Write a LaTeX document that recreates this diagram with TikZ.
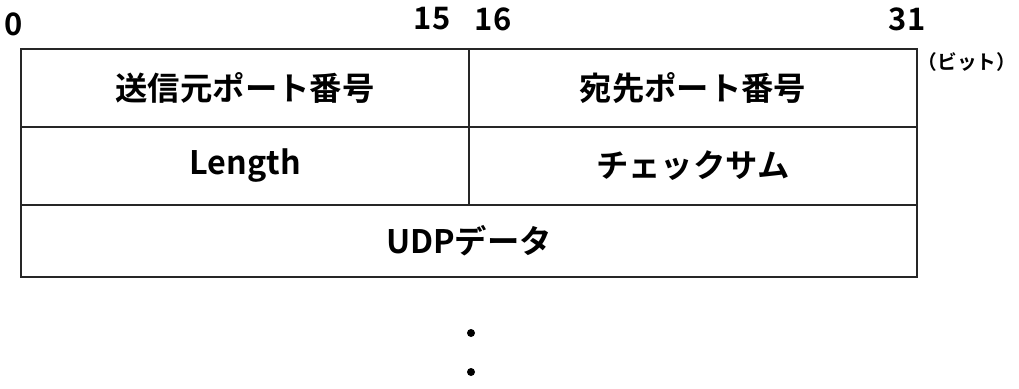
\documentclass[tikz,border=0pt]{standalone}
\usepackage{fontspec}
\setmainfont{Noto Sans CJK JP}[BoldFont={* Bold}]
\usepackage{tikz}
\usetikzlibrary{positioning}

\tikzset{
    field/.style={draw=black!85,line width=1.3pt,rectangle,inner sep=0pt,
        font=\fontsize{23}{23}\selectfont\bfseries},
    bitno/.style={inner sep=0pt,font=\fontsize{22}{22}\selectfont\bfseries},
    dotmark/.style={circle,fill=black,inner sep=0pt,minimum size=8*0.025cm}
}

\begin{document}
\begin{tikzpicture}[x=0.025cm,y=-0.025cm]
    \useasboundingbox (0,0) rectangle (1019,388);

    % bit numbers
    \node[bitno] (b0)  at (14,24)  {0};
    \node[bitno] (b15) at (432,19) {15};
    \node[bitno] (b16) at (493,19) {16};
    \node[bitno] (b31) at (907,19) {31};
    \node[inner sep=0pt,font=\fontsize{14}{14}\selectfont\bfseries] (unit) at (967,62) {（ビット）};

    % header fields
    \node[field,minimum width=448*0.025cm,minimum height=78*0.025cm] (src) at (245,88) {送信元ポート番号};
    \node[field,minimum width=448*0.025cm,minimum height=78*0.025cm] (dst) at (693,88) {宛先ポート番号};

    \node[field,minimum width=448*0.025cm,minimum height=78*0.025cm] (len) at (245,166) {Length};
    \node[field,minimum width=448*0.025cm,minimum height=78*0.025cm] (sum) at (693,166) {チェックサム};

    \node[field,minimum width=896*0.025cm,minimum height=72*0.025cm] (data) at (469,241) {UDPデータ};

    % continues
    \node[dotmark] (d1) at (471,333) {};
    \node[dotmark] (d2) at (471,372) {};
\end{tikzpicture}
\end{document}
